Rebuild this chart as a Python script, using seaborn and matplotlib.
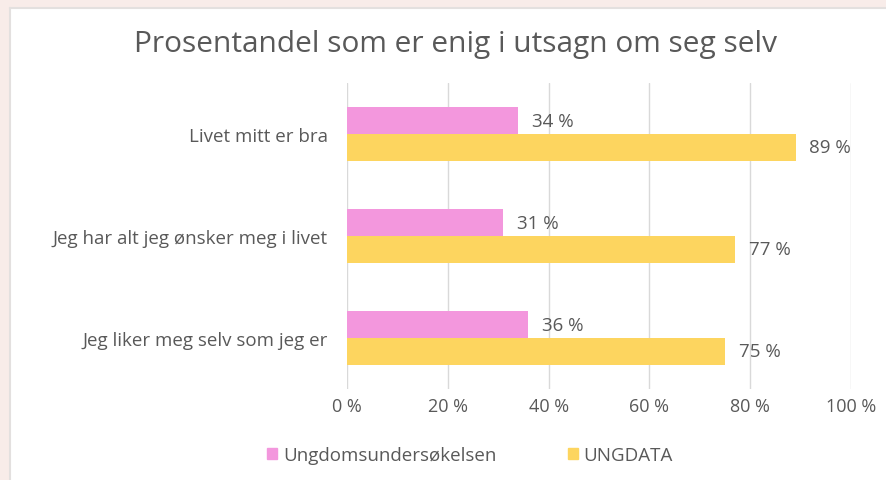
import matplotlib
matplotlib.use("Agg")
import matplotlib.pyplot as plt
import matplotlib.patches as mpatches
import seaborn as sns
import pandas as pd

categories = ["Livet mitt er bra", "Jeg har alt jeg ønsker meg i livet", "Jeg liker meg selv som jeg er"]
series_names = ["Ungdomsundersøkelsen", "UNGDATA"]
ungdomsundersokelsen = [34, 31, 36]
ungdata = [89, 77, 75]
x_ticks = [0, 20, 40, 60, 80, 100]
title = "Prosentandel som er enig i utsagn om seg selv"

colors = ["#F397DD", "#FDD55F"]
text_color = "#595959"

df = pd.DataFrame({
    "category": categories * 2,
    "series": [series_names[0]] * 3 + [series_names[1]] * 3,
    "value": ungdomsundersokelsen + ungdata,
})

sns.set_theme(style="white")
plt.rcParams["font.family"] = ["Open Sans", "DejaVu Sans"]

fig = plt.figure(figsize=(8.86, 4.81), dpi=100)
fig.patch.set_facecolor("white")
ax = fig.add_axes([347/886, 1 - 390/481, (851 - 347)/886, (390 - 84)/481])

sns.barplot(data=df, y="category", x="value", hue="series", order=categories,
            hue_order=series_names, palette=colors, orient="h", width=0.525,
            gap=0, saturation=1, ax=ax, legend=False, errorbar=None, linewidth=0)

for cont in ax.containers:
    ax.bar_label(cont, labels=[f"{v:.0f} %" for v in cont.datavalues],
                 padding=10, color=text_color, fontsize=13.5)

ax.set_xlim(0, 100)
ax.set_xticks(x_ticks)
ax.set_xticklabels([f"{t} %" for t in x_ticks], color=text_color, fontsize=13)
ax.tick_params(axis="x", pad=6, length=0)
ax.tick_params(axis="y", pad=14, length=0)
for lbl in ax.get_yticklabels():
    lbl.set_color(text_color)
    lbl.set_fontsize(13.5)
ax.set_xlabel("")
ax.set_ylabel("")
ax.grid(axis="x", color="#D9D9D9", linewidth=1)
ax.set_axisbelow(True)
for s in ax.spines.values():
    s.set_visible(False)
ax.set_facecolor("white")

fig.text(455/886, 1 - 45/481, title, ha="center", va="center", fontsize=21.5, color=text_color)

handles = [mpatches.Patch(color=c, label=n) for c, n in zip(colors, series_names)]
fig.legend(handles=handles, loc="center", bbox_to_anchor=(470/886, 1 - 456/481), ncol=2,
           frameon=False, fontsize=13.5, handlelength=0.55, handleheight=0.55,
           handletextpad=0.3, columnspacing=3.8, labelcolor=text_color)

# frame decoration (pinkish band at top and left)
fig.patches.append(mpatches.Rectangle((0, 1 - 8/481), 1, 8/481, transform=fig.transFigure,
                                      facecolor="#F8ECE9", edgecolor="none", zorder=0))
fig.patches.append(mpatches.Rectangle((0, 0), 9/886, 1, transform=fig.transFigure,
                                      facecolor="#F8ECE9", edgecolor="none", zorder=0))
fig.lines.append(plt.Line2D([10/886, 10/886], [0, 1 - 9/481], transform=fig.transFigure,
                            color="#E3E0DF", linewidth=1.5))
fig.lines.append(plt.Line2D([10/886, 1], [1 - 9/481, 1 - 9/481], transform=fig.transFigure,
                            color="#E3E0DF", linewidth=1.5))

fig.savefig("out.png", dpi=100)
